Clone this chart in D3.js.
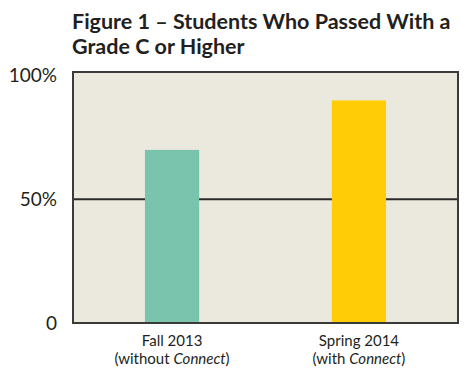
<!DOCTYPE html>
<html>
<head>
<meta charset="utf-8">
<script src="https://cdn.jsdelivr.net/npm/d3@7"></script>
<style>
  body { margin: 0; background: #fff; }
  svg { display: block; }
</style>
</head>
<body>
<div id="chart"></div>
<script>
// data
const categories = ["Fall 2013", "Spring 2014"];
const subLabels = [["(without ", "Connect", ")"], ["(with ", "Connect", ")"]];
const passRates = [70, 90];
const barColors = ["#7AC4AE", "#FFCC05"];
const tickValues = [0, 50, 100];
const tickLabels = ["0", "50%", "100%"];

const width = 473, height = 375;
const margin = { top: 72, right: 15, bottom: 52, left: 73 };
const plotW = width - margin.left - margin.right;
const plotH = height - margin.top - margin.bottom;

const svg = d3.select("#chart").append("svg")
  .attr("width", width)
  .attr("height", height);

// 標題
const title = svg.append("text")
  .attr("x", 72)
  .attr("font-family", "Lato, 'Open Sans', sans-serif")
  .attr("font-weight", "bold")
  .attr("font-size", 21.5)
  .attr("fill", "#231f20");
title.append("tspan").attr("x", 72).attr("y", 29).text("Figure 1 \u2013 Students Who Passed With a");
title.append("tspan").attr("x", 72).attr("y", 54).text("Grade C or Higher");

const g = svg.append("g").attr("transform", `translate(${margin.left},${margin.top})`);

const x = d3.scaleBand().domain(categories).range([0, plotW]).paddingInner(0.71).paddingOuter(0.385);
const y = d3.scaleLinear().domain([0, 101.5]).range([plotH, 0]);

// 背景
g.append("rect")
  .attr("width", plotW)
  .attr("height", plotH)
  .attr("fill", "#EBE8DD");

// 50% line
g.append("line")
  .attr("x1", 0).attr("x2", plotW)
  .attr("y1", y(50)).attr("y2", y(50))
  .attr("stroke", "#2b2b2b")
  .attr("stroke-width", 2);

// bars
g.selectAll(".bar")
  .data(categories)
  .enter()
  .append("rect")
  .attr("class", "bar")
  .attr("x", d => x(d))
  .attr("y", (d, i) => y(passRates[i]))
  .attr("width", x.bandwidth())
  .attr("height", (d, i) => plotH - y(passRates[i]))
  .attr("fill", (d, i) => barColors[i]);

// 外框
g.append("rect")
  .attr("width", plotW)
  .attr("height", plotH)
  .attr("fill", "none")
  .attr("stroke", "#3a3a3a")
  .attr("stroke-width", 2);

// y axis labels
const yAxis = d3.axisLeft(y)
  .tickValues(tickValues)
  .tickFormat((d, i) => tickLabels[i])
  .tickSize(0)
  .tickPadding(16);
g.append("g")
  .call(yAxis)
  .call(s => s.select(".domain").remove())
  .selectAll("text")
  .attr("font-family", "Lato, 'Open Sans', sans-serif")
  .attr("font-size", 19)
  .attr("fill", "#231f20");

// x labels
const xAxis = d3.axisBottom(x).tickSize(0).tickFormat("");
const xg = g.append("g")
  .attr("transform", `translate(0,${plotH})`)
  .call(xAxis)
  .call(s => s.select(".domain").remove());

xg.selectAll(".tick").each(function (d, i) {
  const t = d3.select(this).append("text")
    .attr("text-anchor", "middle")
    .attr("font-family", "Lato, 'Open Sans', sans-serif")
    .attr("font-size", 15)
    .attr("fill", "#231f20");
  t.append("tspan").attr("x", 0).attr("y", 23).text(categories[i]);
  const t2 = t.append("tspan").attr("x", 0).attr("y", 41);
  t2.append("tspan").text(subLabels[i][0]);
  t2.append("tspan").attr("font-style", "italic").text(subLabels[i][1]);
  t2.append("tspan").text(subLabels[i][2]);
});
</script>
</body>
</html>
